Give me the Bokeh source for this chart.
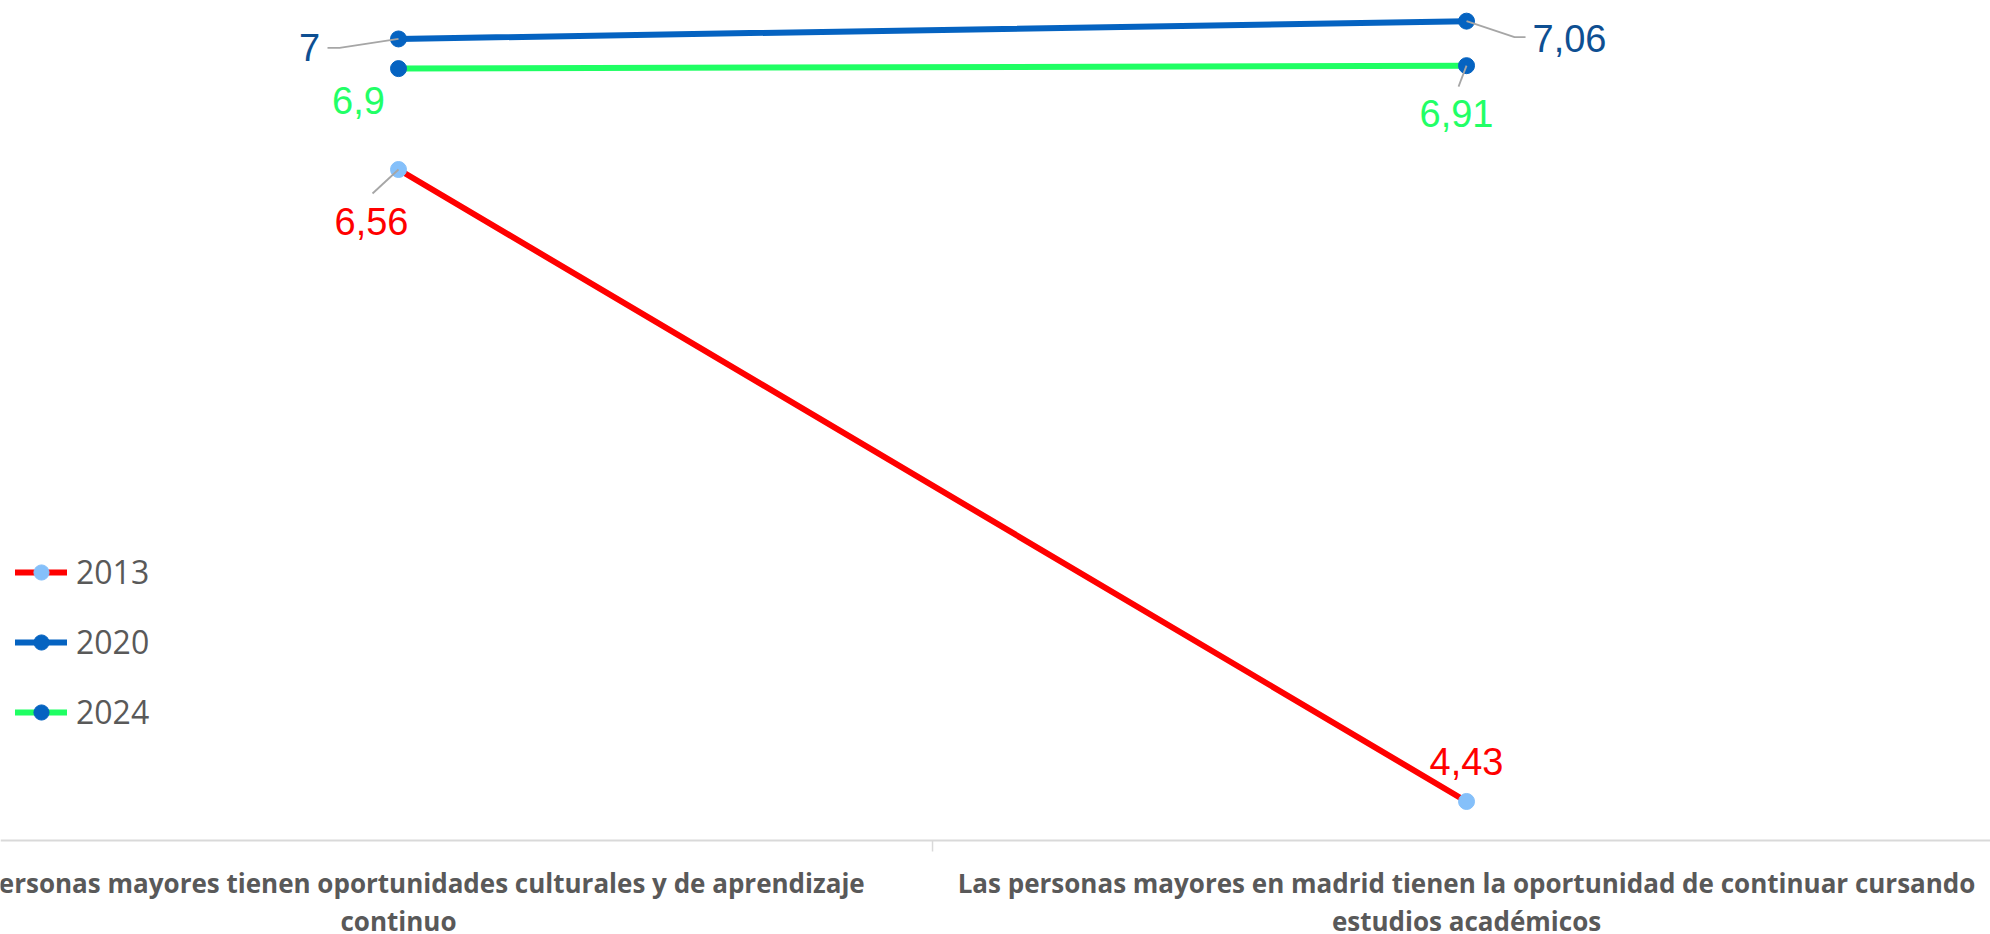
from bokeh.plotting import figure
from bokeh.models import (Range1d, Legend, LegendItem, ColumnDataSource, Span)
from bokeh.core.properties import value
from bokeh.embed import file_html
from bokeh.resources import INLINE

# ---- data ----
categories = [
    "Las personas mayores tienen oportunidades culturales y de aprendizaje\ncontinuo",
    "Las personas mayores en madrid tienen la oportunidad de continuar cursando\nestudios académicos",
]
series_names = ["2013", "2020", "2024"]
values_2013 = [6.56, 4.43]
values_2020 = [7.00, 7.06]
values_2024 = [6.90, 6.91]
label_texts_2013 = ["6,56", "4,43"]
label_texts_2020 = ["7", "7,06"]
label_texts_2024 = ["6,9", "6,91"]

# ---- styles ----
line_colors = ["#FF0000", "#0563C1", "#1FFF63"]
marker_colors = ["#85C0FA", "#0563C1", "#0563C1"]
label_colors = ["#FF0000", "#0E4F92", "#22FF66"]
# data label offsets in screen px (dx right, dy down)
label_offsets = [[(-27, 52), (0, -40)], [(-89, 9), (103, 17)], [(-40, 32), (-10, 48)]]
# leader lines (list of screen px offsets from point) or None
leaders = [[[(0, 0), (-26, 24)], None],
           [[(0, 0), (-59, 9), (-71, 9)], [(0, 0), (48, 16), (59, 16)]],
           [None, [(0, 0), (-8, 21)]]]

W, H = 1990, 934
AXIS_PX = 840          # pixel row of the category axis line
x_start, x_end = -0.37266, 1.4906
y_end = 7.1296
y_axis = 4.2985        # value axis minimum (where the category axis sits)
px_y = AXIS_PX / (y_end - y_axis)
y_start = y_end - H / px_y
px_x = W / (x_end - x_start)

p = figure(frame_width=W, frame_height=H,
           x_range=Range1d(x_start, x_end), y_range=Range1d(y_start, y_end),
           output_backend="svg", toolbar_location=None,
           x_axis_location=None, y_axis_location=None,
           min_border_left=0, min_border_right=0, min_border_top=0, min_border_bottom=0)
p.outline_line_color = None
p.xgrid.grid_line_color = None
p.ygrid.grid_line_color = None
p.background_fill_color = "white"

xpos = list(range(len(categories)))

# category axis: line, boundary ticks, labels
p.add_layout(Span(location=y_axis, dimension="width", line_color="#D9D9D9", line_width=2))
bounds = [i - 0.5 for i in range(len(categories) + 1)]
p.segment(x0=bounds, y0=[y_axis] * len(bounds), x1=bounds,
          y1=[y_axis - 11 / px_y] * len(bounds), line_color="#D9D9D9", line_width=1.5)
p.text(x=xpos, y=[y_axis] * len(xpos), text=categories, y_offset=24,
       text_font=value("Open Sans"), text_font_style="bold", text_font_size="26px",
       text_color="#595959", text_align="center", text_baseline="top",
       text_line_height=1.07)

all_vals = [values_2013, values_2020, values_2024]
all_texts = [label_texts_2013, label_texts_2020, label_texts_2024]
items = []
for k, name in enumerate(series_names):
    vals = all_vals[k]
    lr = p.line(xpos, vals, line_color=line_colors[k], line_width=6, line_cap="round")
    mr = p.scatter(xpos, vals, size=16, marker="circle", fill_color=marker_colors[k],
                   line_color=marker_colors[k])
    items.append(LegendItem(label=name, renderers=[lr, mr]))

# leader lines
for k in range(len(series_names)):
    vals = all_vals[k]
    for i, x in enumerate(xpos):
        ld = leaders[k][i]
        if ld is None:
            continue
        xs = [x + dx / px_x for dx, dy in ld]
        ys = [vals[i] - dy / px_y for dx, dy in ld]
        p.line(xs, ys, line_color="#A6A6A6", line_width=1.8)

# data labels
for k in range(len(series_names)):
    vals = all_vals[k]
    src = ColumnDataSource(dict(x=xpos, y=vals, t=all_texts[k],
                                dx=[o[0] for o in label_offsets[k]],
                                dy=[o[1] for o in label_offsets[k]]))
    p.text(x="x", y="y", text="t", x_offset="dx", y_offset="dy", source=src,
           text_color=label_colors[k], text_font=value("Liberation Sans"),
           text_font_size="38px", text_align="center", text_baseline="middle")

legend = Legend(items=items, location=(15, 201), orientation="vertical",
                glyph_width=52, glyph_height=38, label_height=38, spacing=27,
                label_standoff=9, padding=0, margin=0,
                label_text_font="Open Sans", label_text_font_size="32px",
                label_text_color="#595959", border_line_color=None,
                background_fill_alpha=0)
p.add_layout(legend)

open("out.html", "w").write(file_html(p, INLINE))
